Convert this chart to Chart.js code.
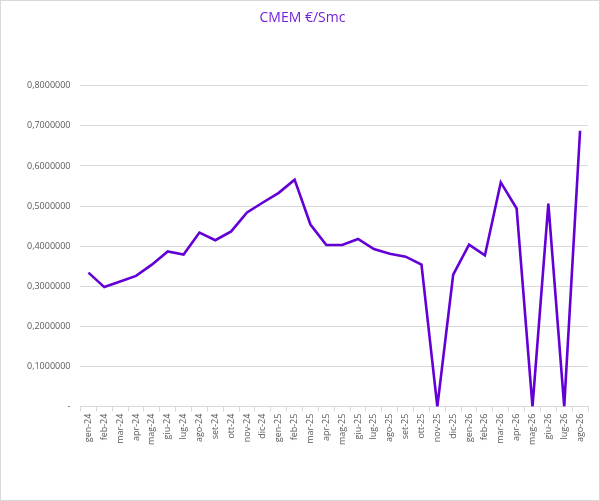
<!DOCTYPE html>
<html>
<head>
<meta charset="utf-8">
<script src="https://cdn.jsdelivr.net/npm/chart.js@4/dist/chart.umd.min.js"></script>
<style>
  html, body { margin: 0; padding: 0; background: #fff; }
  #chart { display: block; }
</style>
</head>
<body>
<canvas id="chart" width="600" height="501"></canvas>
<script>
const months = [
  'gen-24', 'feb-24', 'mar-24', 'apr-24', 'mag-24', 'giu-24', 'lug-24', 'ago-24',
  'set-24', 'ott-24', 'nov-24', 'dic-24', 'gen-25', 'feb-25', 'mar-25', 'apr-25',
  'mag-25', 'giu-25', 'lug-25', 'ago-25', 'set-25', 'ott-25', 'nov-25', 'dic-25',
  'gen-26', 'feb-26', 'mar-26', 'apr-26', 'mag-26', 'giu-26', 'lug-26', 'ago-26'
];
const cmem = [
  0.334, 0.298, 0.312, 0.326, 0.354, 0.387, 0.379, 0.434,
  0.415, 0.437, 0.484, 0.509, 0.533, 0.566, 0.454, 0.403,
  0.403, 0.418, 0.393, 0.381, 0.374, 0.354, 0, 0.329,
  0.404, 0.377, 0.559, 0.494, 0, 0.506, 0, 0.688
];
const yMin = 0;
const yMax = 0.8;
const yStep = 0.1;

const lineColor = '#6300d6';
const titleColor = '#7422d9';
const tickColor = '#595959';
const gridColor = '#d9d9d9';

function formatTick(value) {
    if (Math.abs(value) < 1e-9) {
        return '-';
    }
    return value.toFixed(7).replace('.', ',');
}

const frameBorder = {
    id: 'frameBorder',
    afterDraw(chart) {
        const ctx = chart.ctx;
        ctx.save();
        ctx.strokeStyle = gridColor;
        ctx.lineWidth = 1;
        ctx.strokeRect(0.5, 0.5, chart.width - 1, chart.height - 1);
        ctx.restore();
    }
};

new Chart(document.getElementById('chart'), {
    type: 'line',
    data: {
        labels: months,
        datasets: [{
            label: 'CMEM €/Smc',
            data: cmem,
            borderColor: lineColor,
            borderWidth: 2.6,
            pointRadius: 0,
            tension: 0,
            fill: false
        }]
    },
    options: {
        responsive: false,
        animation: false,
        devicePixelRatio: 1,
        layout: {
            padding: { left: 17, right: 12, top: 8, bottom: 54 }
        },
        plugins: {
            legend: { display: false },
            tooltip: { enabled: false },
            title: {
                display: true,
                text: 'CMEM €/Smc',
                color: titleColor,
                font: { family: 'Open Sans', size: 14, weight: 'normal' },
                padding: { top: 2, bottom: 59 }
            }
        },
        scales: {
            x: {
                offset: true,
                grid: {
                    offset: true,
                    drawOnChartArea: false,
                    color: gridColor,
                    tickLength: 5
                },
                border: { color: gridColor },
                ticks: {
                    autoSkip: false,
                    minRotation: 90,
                    maxRotation: 90,
                    color: tickColor,
                    padding: 2,
                    font: { family: 'Open Sans', size: 9 }
                }
            },
            y: {
                min: yMin,
                max: yMax,
                grid: {
                    color: gridColor,
                    drawTicks: false
                },
                border: { display: false },
                ticks: {
                    stepSize: yStep,
                    color: tickColor,
                    padding: 10,
                    font: { family: 'Open Sans', size: 9 },
                    callback: formatTick
                }
            }
        }
    },
    plugins: [frameBorder]
});
</script>
</body>
</html>
